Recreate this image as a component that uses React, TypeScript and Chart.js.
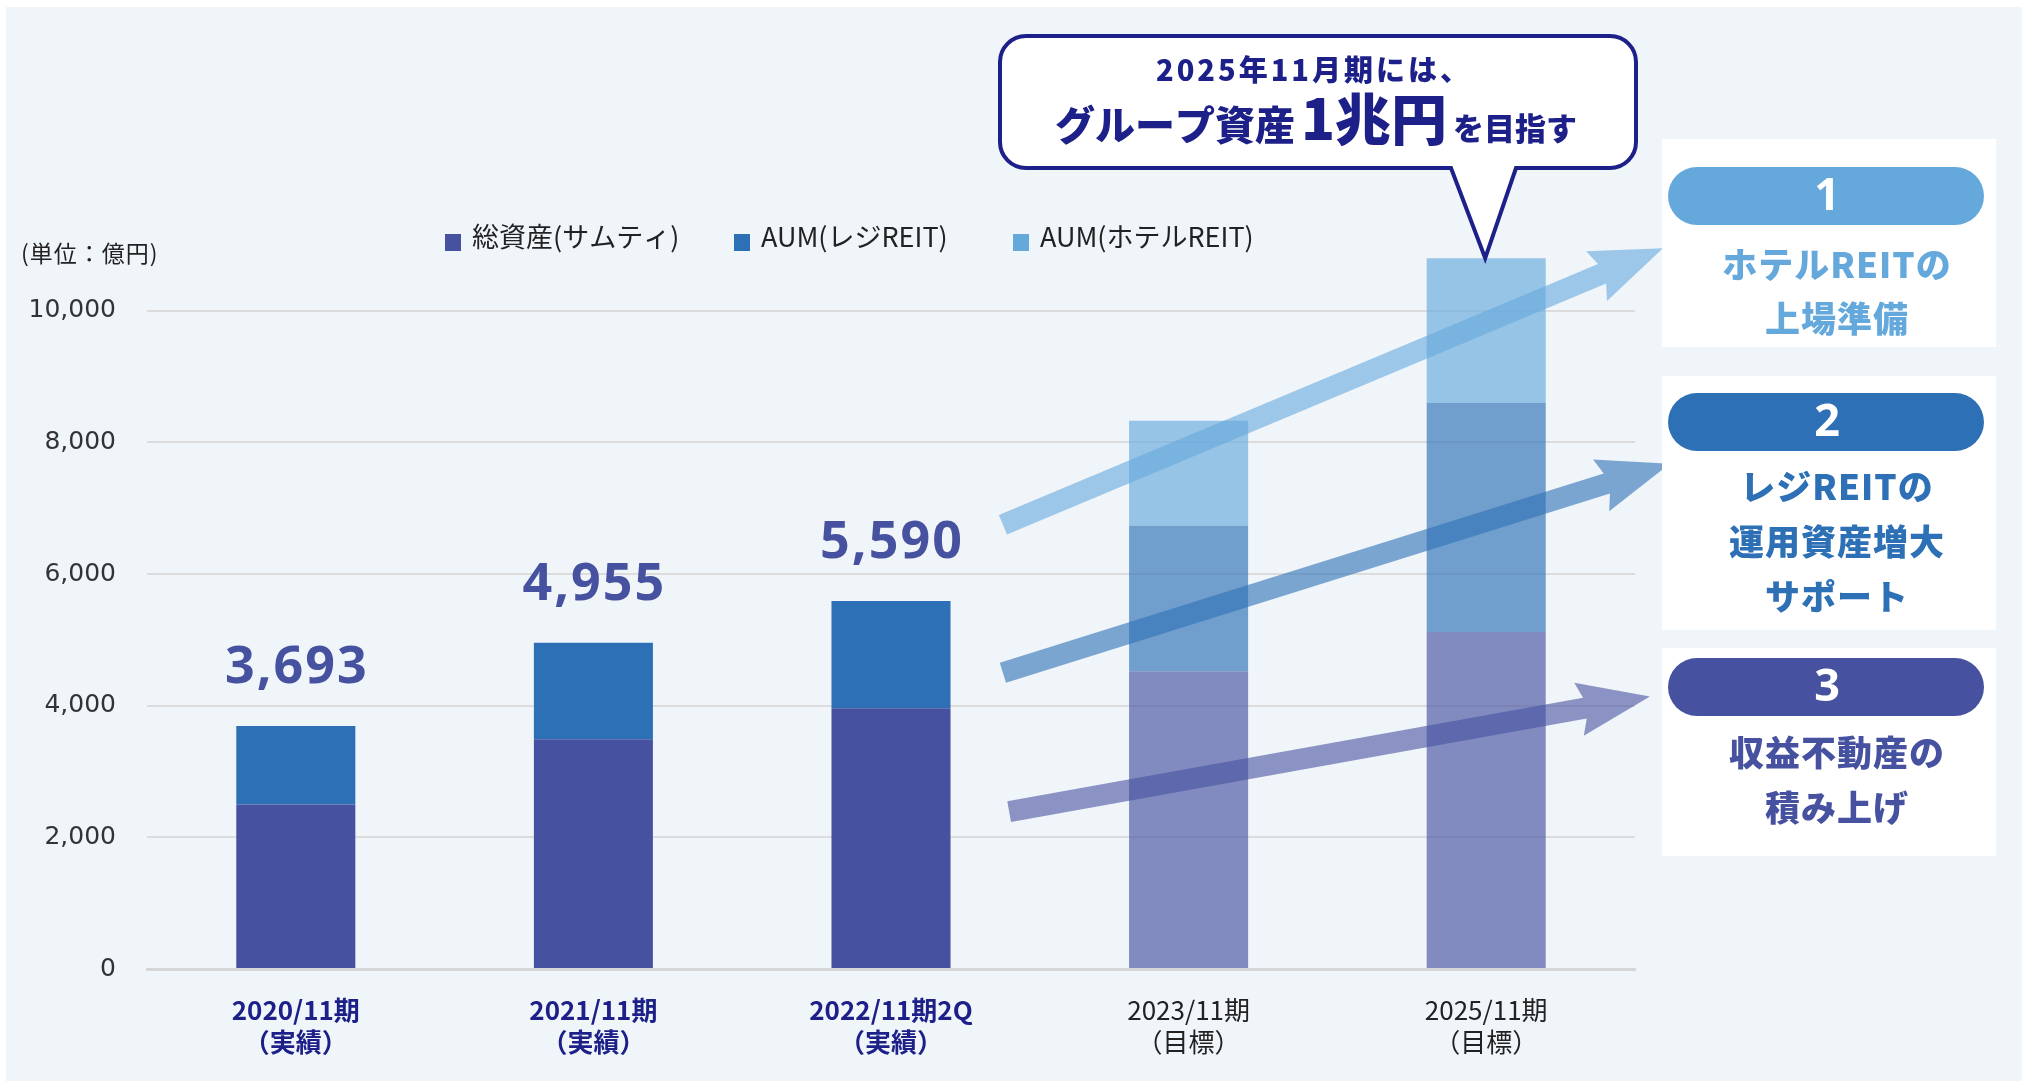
import React, { useEffect, useRef } from 'react';
import { Chart, registerables } from 'chart.js';

Chart.register(...registerables);

// ---- data ----
const categories = ['2020/11期', '2021/11期', '2022/11期2Q', '2023/11期', '2025/11期'];
const periodNotes = ['（実績）', '（実績）', '（実績）', '（目標）', '（目標）'];
const isTarget = [false, false, false, true, true];
const ownAssets = [2500, 3490, 3960, 4520, 5120];
const residentialAum = [1193, 1465, 1630, 2215, 3480];
const hotelAum = [0, 0, 0, 1595, 2200];
const yTickValues = [0, 2000, 4000, 6000, 8000, 10000];
const seriesNames = ['総資産(サムティ)', 'AUM(レジREIT)', 'AUM(ホテルREIT)'];
const unitLabel = '(単位：億円)';
const bubbleLine1 = '2025年11月期には、';
const bubbleLine2 = ['グループ資産', '1兆円', 'を目指す'];
const panelNumbers = ['1', '2', '3'];
const panelLines = [
  ['ホテルREITの', '上場準備'],
  ['レジREITの', '運用資産増大', 'サポート'],
  ['収益不動産の', '積み上げ'],
];

// ---- styles ----
const SERIES_COLORS = ['#4652A0', '#2D70B6', '#65A9DC'];
const TARGET_ALPHA = 0.65;
const NAVY = '#1D2088';
const BG = '#F0F5FA';
const CJK = '"Noto Sans CJK JP", "Noto Sans", sans-serif';
const W = 2022;
const H = 1081;

function rgba(hex: string, a: number) {
  const n = parseInt(hex.slice(1), 16);
  return `rgba(${(n >> 16) & 255}, ${(n >> 8) & 255}, ${n & 255}, ${a})`;
}

// arrows anchored in data space: [category index, value]
const growthArrows = [
  { from: [2.376, 6750], to: [4.594, 10950], color: SERIES_COLORS[2] },
  { from: [2.376, 4500], to: [4.617, 7675], color: SERIES_COLORS[1] },
  { from: [2.397, 2390], to: [4.55, 4140], color: SERIES_COLORS[0] },
];

function roundRectPath(ctx: CanvasRenderingContext2D, x: number, y: number, w: number, h: number, r: number) {
  ctx.beginPath();
  ctx.moveTo(x + r, y);
  ctx.lineTo(x + w - r, y);
  ctx.arcTo(x + w, y, x + w, y + r, r);
  ctx.lineTo(x + w, y + h - r);
  ctx.arcTo(x + w, y + h, x + w - r, y + h, r);
  ctx.lineTo(x + r, y + h);
  ctx.arcTo(x, y + h, x, y + h - r, r);
  ctx.lineTo(x, y + r);
  ctx.arcTo(x, y, x + r, y, r);
  ctx.closePath();
}

function drawArrow(ctx: CanvasRenderingContext2D, x1: number, y1: number, x2: number, y2: number, color: string) {
  const shaft = 21;
  const headW = 54;
  const headL = 66;
  const ang = Math.atan2(y2 - y1, x2 - x1);
  const len = Math.hypot(x2 - x1, y2 - y1);
  ctx.save();
  ctx.translate(x1, y1);
  ctx.rotate(ang);
  ctx.beginPath();
  ctx.moveTo(0, -shaft / 2);
  ctx.lineTo(len - headL, -shaft / 2);
  ctx.lineTo(len - headL - 6, -headW / 2);
  ctx.lineTo(len, 0);
  ctx.lineTo(len - headL - 6, headW / 2);
  ctx.lineTo(len - headL, shaft / 2);
  ctx.lineTo(0, shaft / 2);
  ctx.closePath();
  ctx.fillStyle = rgba(color, 0.6);
  ctx.fill();
  ctx.restore();
}

const decorPlugin = {
  id: 'decor',
  beforeDraw(chart: any) {
    const ctx: CanvasRenderingContext2D = chart.ctx;
    ctx.save();
    ctx.fillStyle = '#FFFFFF';
    ctx.fillRect(0, 0, W, H);
    ctx.fillStyle = BG;
    ctx.fillRect(6, 7, W - 6, H - 7);
    ctx.restore();
  },
  afterDatasetsDraw(chart: any) {
    const ctx: CanvasRenderingContext2D = chart.ctx;
    const xs = chart.scales.x;
    const ys = chart.scales.y;
    const ds = chart.data.datasets;
    const totals = categories.map((_, i) => ds.reduce((s: number, d: any) => s + (d.data[i] || 0), 0));

    ctx.save();
    // value labels above actual bars
    ctx.font = `bold 52px "Noto Sans", sans-serif`;
    (ctx as any).letterSpacing = '2px';
    ctx.fillStyle = SERIES_COLORS[0];
    ctx.textAlign = 'center';
    ctx.textBaseline = 'alphabetic';
    totals.forEach((t, i) => {
      if (isTarget[i]) return;
      ctx.fillText(t.toLocaleString('en-US'), xs.getPixelForValue(i) + 1, ys.getPixelForValue(t) - 43);
    });
    (ctx as any).letterSpacing = '0px';

    // arrows
    growthArrows.forEach((a) => {
      drawArrow(
        ctx,
        xs.getPixelForValue(a.from[0]), ys.getPixelForValue(a.from[1]),
        xs.getPixelForValue(a.to[0]), ys.getPixelForValue(a.to[1]),
        a.color,
      );
    });

    // speech bubble, tail points at the top of the last bar
    const last = categories.length - 1;
    const tipX = xs.getPixelForValue(last) - 1;
    const tipY = ys.getPixelForValue(totals[last]);
    const bx = 1000, by = 36, bw = 636, bh = 132, r = 26;
    ctx.beginPath();
    ctx.moveTo(bx + r, by);
    ctx.lineTo(bx + bw - r, by);
    ctx.arcTo(bx + bw, by, bx + bw, by + r, r);
    ctx.lineTo(bx + bw, by + bh - r);
    ctx.arcTo(bx + bw, by + bh, bx + bw - r, by + bh, r);
    ctx.lineTo(1516, by + bh);
    ctx.lineTo(tipX, tipY);
    ctx.lineTo(1451, by + bh);
    ctx.lineTo(bx + r, by + bh);
    ctx.arcTo(bx, by + bh, bx, by + bh - r, r);
    ctx.lineTo(bx, by + r);
    ctx.arcTo(bx, by, bx + r, by, r);
    ctx.closePath();
    ctx.fillStyle = '#FFFFFF';
    ctx.fill();
    ctx.lineWidth = 4;
    ctx.lineJoin = 'miter';
    ctx.strokeStyle = NAVY;
    ctx.stroke();

    ctx.fillStyle = NAVY;
    ctx.textAlign = 'center';
    ctx.font = `900 29px ${CJK}`;
    (ctx as any).letterSpacing = '3px';
    ctx.fillText(bubbleLine1, 1314, 81);
    (ctx as any).letterSpacing = '0px';
    const parts = [
      { t: bubbleLine2[0], f: `900 40px ${CJK}` },
      { t: bubbleLine2[1], f: `900 56px ${CJK}` },
      { t: bubbleLine2[2], f: `900 31px ${CJK}` },
    ];
    const widths = parts.map((p) => { ctx.font = p.f; return ctx.measureText(p.t).width; });
    const gap = 6;
    const total = widths.reduce((a, b) => a + b, 0) + gap * 2;
    let cx = 1316 - total / 2;
    ctx.textAlign = 'left';
    parts.forEach((p, k) => {
      ctx.font = p.f;
      ctx.fillText(p.t, cx, 140);
      cx += widths[k] + gap;
    });

    // right-hand panels
    const boxes = [
      { y: 139, h: 208, pill: 167 },
      { y: 376, h: 254, pill: 393 },
      { y: 648, h: 208, pill: 658 },
    ];
    const lineY = [[265, 319], [487, 542, 597], [753, 808]];
    const panelColors = [SERIES_COLORS[2], SERIES_COLORS[1], SERIES_COLORS[0]];
    boxes.forEach((b, k) => {
      ctx.fillStyle = '#FFFFFF';
      ctx.fillRect(1662, b.y, 334, b.h);
      roundRectPath(ctx, 1668, b.pill, 316, 58, 29);
      ctx.fillStyle = panelColors[k];
      ctx.fill();
      ctx.fillStyle = '#FFFFFF';
      ctx.textAlign = 'center';
      ctx.textBaseline = 'middle';
      ctx.font = `bold 45px "Noto Sans", sans-serif`;
      ctx.fillText(panelNumbers[k], 1827, b.pill + 30);
      ctx.fillStyle = panelColors[k];
      ctx.font = `900 35px ${CJK}`;
      (ctx as any).letterSpacing = '1px';
      panelLines[k].forEach((line, j) => {
        ctx.fillText(line, 1837, lineY[k][j]);
      });
      (ctx as any).letterSpacing = '0px';
    });

    // legend
    const legendX = [[445, 472], [734, 761], [1013, 1040]];
    ctx.textBaseline = 'middle';
    ctx.textAlign = 'left';
    ctx.font = `27px ${CJK}`;
    ds.forEach((d: any, k: number) => {
      ctx.fillStyle = SERIES_COLORS[k];
      ctx.fillRect(legendX[k][0], 234, 16, 17);
      ctx.fillStyle = '#222222';
      ctx.fillText(d.label, legendX[k][1], 237);
    });

    // unit label
    ctx.font = `23px ${CJK}`;
    ctx.fillStyle = '#222222';
    (ctx as any).letterSpacing = '1px';
    ctx.fillText(unitLabel, 21, 253);
    (ctx as any).letterSpacing = '0px';
    ctx.restore();
  },
};

export default function App() {
  const canvasRef = useRef<HTMLCanvasElement | null>(null);

  useEffect(() => {
    const canvas = canvasRef.current;
    if (!canvas) return;
    const colorsFor = (k: number, n: number) =>
      Array.from({ length: n }, (_, i) => (isTarget[i] ? rgba(SERIES_COLORS[k], TARGET_ALPHA) : SERIES_COLORS[k]));

    const chart = new Chart(canvas, {
      type: 'bar',
      data: {
        labels: categories.map((c, i) => [c, periodNotes[i]]),
        datasets: [
          { label: seriesNames[0], data: ownAssets, backgroundColor: colorsFor(0, ownAssets.length), stack: 'total' },
          { label: seriesNames[1], data: residentialAum, backgroundColor: colorsFor(1, residentialAum.length), stack: 'total' },
          { label: seriesNames[2], data: hotelAum, backgroundColor: colorsFor(2, hotelAum.length), stack: 'total' },
        ],
      },
      options: {
        animation: false,
        responsive: false,
        maintainAspectRatio: false,
        layout: { padding: { top: 245, right: 387, left: 0, bottom: 0 } },
        datasets: { bar: { barPercentage: 0.4, categoryPercentage: 1, borderWidth: 0 } },
        plugins: { legend: { display: false }, tooltip: { enabled: false } },
        scales: {
          x: {
            stacked: true,
            grid: { display: false, drawTicks: false },
            border: { display: true, color: '#D6D6D6', width: 3 },
            ticks: {
              autoSkip: false,
              maxRotation: 0,
              padding: 25,
              color: (c: any) => (isTarget[c.index] ? '#222222' : NAVY),
              font: (c: any) => ({
                family: CJK,
                size: 26,
                weight: isTarget[c.index] ? 'normal' : 'bold',
                lineHeight: 32 / 26,
              }),
            },
            afterFit: (s: any) => { s.height = 112; },
          },
          y: {
            stacked: true,
            min: 0,
            max: 11000,
            afterBuildTicks: (s: any) => { s.ticks = yTickValues.map((v) => ({ value: v })); },
            grid: { color: '#DCDCDC', lineWidth: 2, drawTicks: false },
            border: { display: false },
            ticks: {
              padding: 31,
              color: '#333333',
              font: { family: '"DejaVu Sans", sans-serif', size: 25 },
              callback: (v: any) => Number(v).toLocaleString('en-US'),
            },
            afterFit: (s: any) => { s.width = 147; },
          },
        },
      } as any,
      plugins: [decorPlugin],
    });
    return () => chart.destroy();
  }, []);

  return (
    <div style={{ position: 'fixed', left: 0, top: 0, width: W, height: H }}>
      <canvas ref={canvasRef} width={W} height={H} style={{ display: 'block', width: W, height: H }} />
    </div>
  );
}
